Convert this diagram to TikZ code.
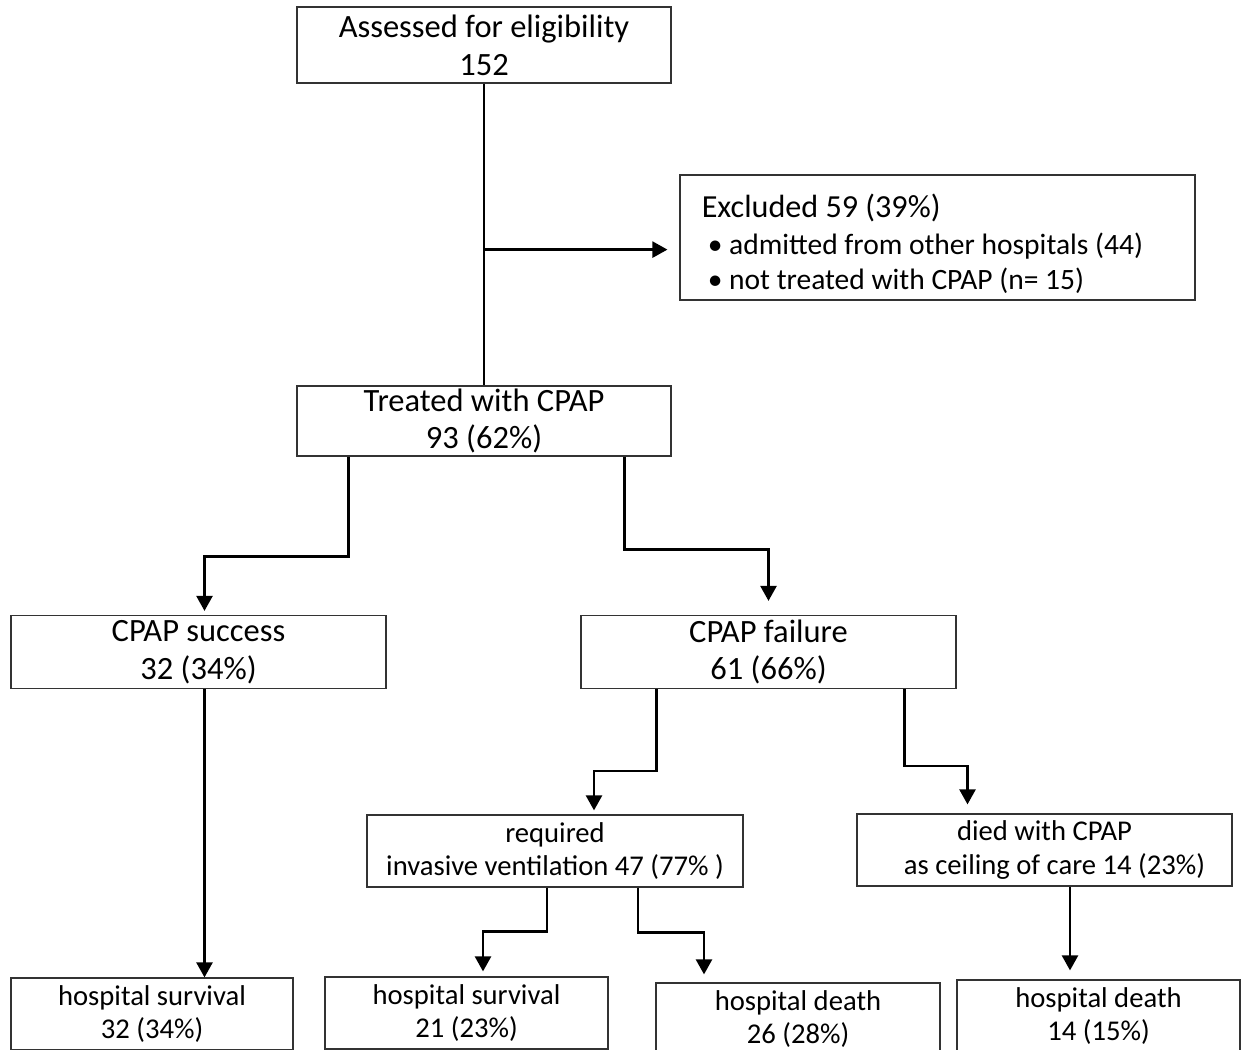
\documentclass[tikz,border=0pt]{standalone}
\usepackage{fontspec}
\setmainfont{Carlito}
\usetikzlibrary{arrows.meta,calc}

\begin{document}
\begin{tikzpicture}[
  x=0.02cm, y=-0.02cm,
  box/.style={draw=black!80,line width=0.7pt,inner sep=0pt,align=center,minimum height=1.44cm},
  bigtxt/.style={font=\fontsize{18.5}{21.5}\selectfont},
  smalltxt/.style={font=\fontsize{16.3}{19}\selectfont},
  arrow/.style={-{Triangle[length=0.3cm,width=0.32cm]},line width=1.4pt}
]
\clip (0,0) rectangle (1250,1050);
\node[box,bigtxt,minimum width=7.48cm,minimum height=1.52cm] (assess) at (484,45) {Assessed for eligibility\\152};
\node[box,minimum width=10.3cm,minimum height=2.5cm] (excl) at (937.5,237.5) {};
\node[anchor=west,align=left,inner sep=0pt,font=\fontsize{16.8}{20}\selectfont] (excltxt) at ($(excl.west)+(22,6)$)
  {{\fontsize{18.3}{22}\selectfont Excluded 59 (39\%)}\\[1pt]
   \hspace*{0.12cm}\textbullet\ admitted from other hospitals (44)\\
   \hspace*{0.12cm}\textbullet\ not treated with CPAP (n= 15)};
\node[box,bigtxt,minimum width=7.48cm,minimum height=1.4cm] (treated) at (484,421) {Treated with CPAP\\93 (62\%)};
\node[box,bigtxt,minimum width=7.5cm,minimum height=1.46cm] (success) at (198.5,652) {CPAP success\\32 (34\%)};
\node[box,bigtxt,minimum width=7.5cm,minimum height=1.46cm] (failure) at (768.5,652) {CPAP failure\\61 (66\%)};
\node[box,smalltxt,minimum width=7.52cm] (invasive) at (555,851) {required\\invasive ventilation 47 (77\% )};
\node[box,smalltxt,minimum width=7.5cm] (died) at (1044.5,850) {died with CPAP\\\hspace*{0.4cm}as ceiling of care 14 (23\%)};
\node[box,smalltxt,minimum width=5.64cm] (hsone) at (152,1014) {hospital survival\\32 (34\%)};
\node[box,smalltxt,minimum width=5.66cm] (hstwo) at (466.5,1013) {hospital survival\\21 (23\%)};
\node[box,smalltxt,minimum width=5.68cm] (deathone) at (798,1019) {hospital death\\26 (28\%)};
\node[box,smalltxt,minimum width=5.66cm] (deathtwo) at (1098.5,1016) {hospital death\\14 (15\%)};
\coordinate (branch) at ($(assess.south)+(0,166)$);
\draw[line width=1.4pt] (assess.south) -- (treated.north);
\draw[arrow,shorten >=0.24cm] (branch) -- (branch -| excl.west);
\draw[arrow] ($(treated.south west)+(52,0)$) -- ++(0,100) -| ($(success.north)+(6,-4)$);
\draw[arrow] ($(treated.south east)+(-47,0)$) -- ++(0,93) -| ($(failure.north)+(0,-14)$);
\draw[arrow] ($(success.south)+(6,0)$) -- ($(success.south |- hsone.north)+(6,0)$);
\draw[arrow] ($(failure.south west)+(76,0)$) -- ++(0,82) -| ($(invasive.north)+(39,-4)$);
\draw[arrow] ($(failure.south east)+(-52,0)$) -- ++(0,77) -| ($(died.north)+(-77,-9)$);
\draw[arrow] ($(invasive.south)+(-8,0)$) -- ++(0,44) -| ($(hstwo.north)+(16.5,-5)$);
\draw[arrow] ($(invasive.south)+(83,0)$) -- ++(0,45) -| ($(deathone.north)+(-94,-8)$);
\draw[arrow] ($(died.south)+(25.5,0)$) -- ($(died.south |- deathtwo.north)+(25.5,-9)$);
\end{tikzpicture}
\end{document}
